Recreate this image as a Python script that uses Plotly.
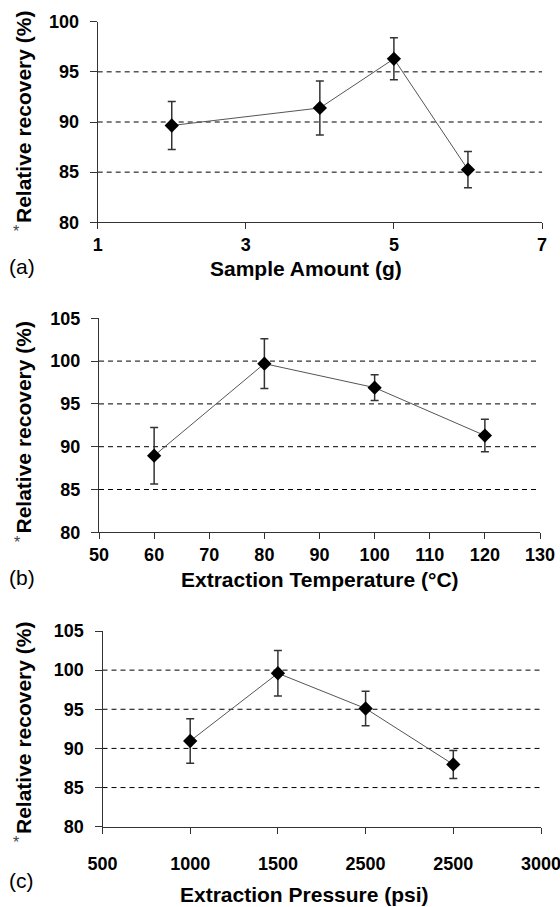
import plotly.graph_objects as go

# ---- data ----
amount_x = [2, 4, 5, 6]
amount_y = [89.65, 91.4, 96.3, 85.25]
amount_err = [2.4, 2.7, 2.1, 1.8]

temp_x = [60, 80, 100, 120]
temp_y = [88.95, 99.7, 96.9, 91.3]
temp_err = [3.3, 2.9, 1.5, 1.9]

pressure_x = [1000, 1500, 2000, 2500]
pressure_y = [90.95, 99.6, 95.1, 87.95]
pressure_err = [2.85, 2.9, 2.2, 1.8]

amount_ticks = [1, 3, 5, 7]
temp_ticks = [50, 60, 70, 80, 90, 100, 110, 120, 130]
pressure_tickvals = [500, 1000, 1500, 2000, 2500, 3000]
pressure_ticktext = ["500", "1000", "1500", "2500", "2500", "3000"]

grid_a = [85, 90, 95]
grid_bc = [85, 90, 95, 100]

panel_labels = ["(a)", "(b)", "(c)"]
x_titles = ["Sample Amount (g)", "Extraction Temperature (°C)", "Extraction Pressure (psi)"]
y_title = "Relative recovery (%)"

FONT = "Liberation Sans, Arial, sans-serif"
W, H = 560, 907

fig = go.Figure()

series = [(amount_x, amount_y, amount_err, "x", "y"),
          (temp_x, temp_y, temp_err, "x2", "y2"),
          (pressure_x, pressure_y, pressure_err, "x3", "y3")]
for xs, ys, es, xa, ya in series:
    fig.add_trace(go.Scatter(
        x=xs, y=ys, xaxis=xa, yaxis=ya, mode="lines+markers",
        line=dict(color="#555555", width=1),
        marker=dict(symbol="diamond", size=11, color="black"),
        error_y=dict(type="data", array=es, visible=True, color="#333333",
                     thickness=1.5, width=4),
        showlegend=False, cliponaxis=False))

# pixel geometry of each panel
panels = [
    dict(x0=97.7, x1=542, ytop=21.7, ybot=222.3),
    dict(x0=99, x1=540, ytop=318.3, ybot=532.3),
    dict(x0=102.5, x1=541, ytop=631, ybot=826.7),
]

tickfont = dict(family=FONT, size=18, color="black", weight="bold")
common_x = dict(showline=True, linecolor="#333333", linewidth=1, ticks="outside",
                ticklen=6, tickcolor="#333333", showgrid=False, zeroline=False,
                tickfont=tickfont, fixedrange=True, automargin=False,
                ticklabeloverflow="allow")
common_y = dict(showline=True, linecolor="#333333", linewidth=1, ticks="outside",
                ticklen=7, tickcolor="#333333", showgrid=False, zeroline=False,
                tickfont=tickfont, dtick=5, ticklabelstandoff=7, fixedrange=True,
                automargin=False, ticklabeloverflow="allow")

layout_axes = {}
for i, p in enumerate(panels):
    sfx = "" if i == 0 else str(i + 1)
    ydom = [1 - p["ybot"] / H, 1 - p["ytop"] / H]
    xdom = [p["x0"] / W, p["x1"] / W]
    xa = dict(common_x, domain=xdom, anchor="y" + sfx)
    ya = dict(common_y, domain=ydom, anchor="x" + sfx)
    if i == 0:
        xa.update(range=[1, 7], tickvals=amount_ticks)
        ya.update(range=[80, 100])
    elif i == 1:
        xa.update(range=[50, 130], tickvals=temp_ticks)
        ya.update(range=[80, 105])
    else:
        xa.update(range=[500, 3000], tickvals=pressure_tickvals,
                  ticktext=pressure_ticktext, ticklabelstandoff=15)
        ya.update(range=[80, 105])
    layout_axes["xaxis" + sfx] = xa
    layout_axes["yaxis" + sfx] = ya

shapes = []
for i, gl in enumerate([grid_a, grid_bc, grid_bc]):
    sfx = "" if i == 0 else str(i + 1)
    for v in gl:
        shapes.append(dict(type="line", xref="x" + sfx + " domain", yref="y" + sfx,
                           x0=0, x1=1, y0=v, y1=v, layer="below",
                           line=dict(color="#000000", width=1, dash="5px,4px")))

annotations = []
xt_pos = [(305.5, 268), (319.5, 579), (304, 894)]
yt_center = [117, 427.5, 728]
ast_pos = [(15.5, 231), (16.5, 541), (16, 841)]
pl_pos = [266.7, 577, 880]
for i, p in enumerate(panels):
    annotations.append(dict(text="<b>" + y_title + "</b>", x=23 / W, y=1 - yt_center[i] / H,
                            xref="paper", yref="paper",
                            xanchor="center", yanchor="middle", textangle=-90, showarrow=False,
                            font=dict(family=FONT, size=21, color="black")))
    annotations.append(dict(text="*", x=ast_pos[i][0] / W, y=1 - (ast_pos[i][1] + 1) / H,
                            xref="paper", yref="paper", xanchor="center", yanchor="middle",
                            showarrow=False,
                            font=dict(family=FONT, size=16, color="#444444")))
    annotations.append(dict(text="<b>" + x_titles[i] + "</b>", x=xt_pos[i][0] / W,
                            y=1 - xt_pos[i][1] / H, xref="paper", yref="paper",
                            xanchor="center", yanchor="middle", showarrow=False,
                            font=dict(family=FONT, size=21, color="black")))
    annotations.append(dict(text=panel_labels[i], x=7 / W, y=1 - pl_pos[i] / H,
                            xref="paper", yref="paper", xanchor="left", yanchor="middle",
                            showarrow=False,
                            font=dict(family=FONT, size=21, color="black")))

fig.update_layout(template="none", width=W, height=H, margin=dict(l=0, r=0, t=0, b=0),
                  plot_bgcolor="white", paper_bgcolor="white",
                  shapes=shapes, annotations=annotations, showlegend=False,
                  **layout_axes)

fig.write_html("out.html", config={"displayModeBar": False})
